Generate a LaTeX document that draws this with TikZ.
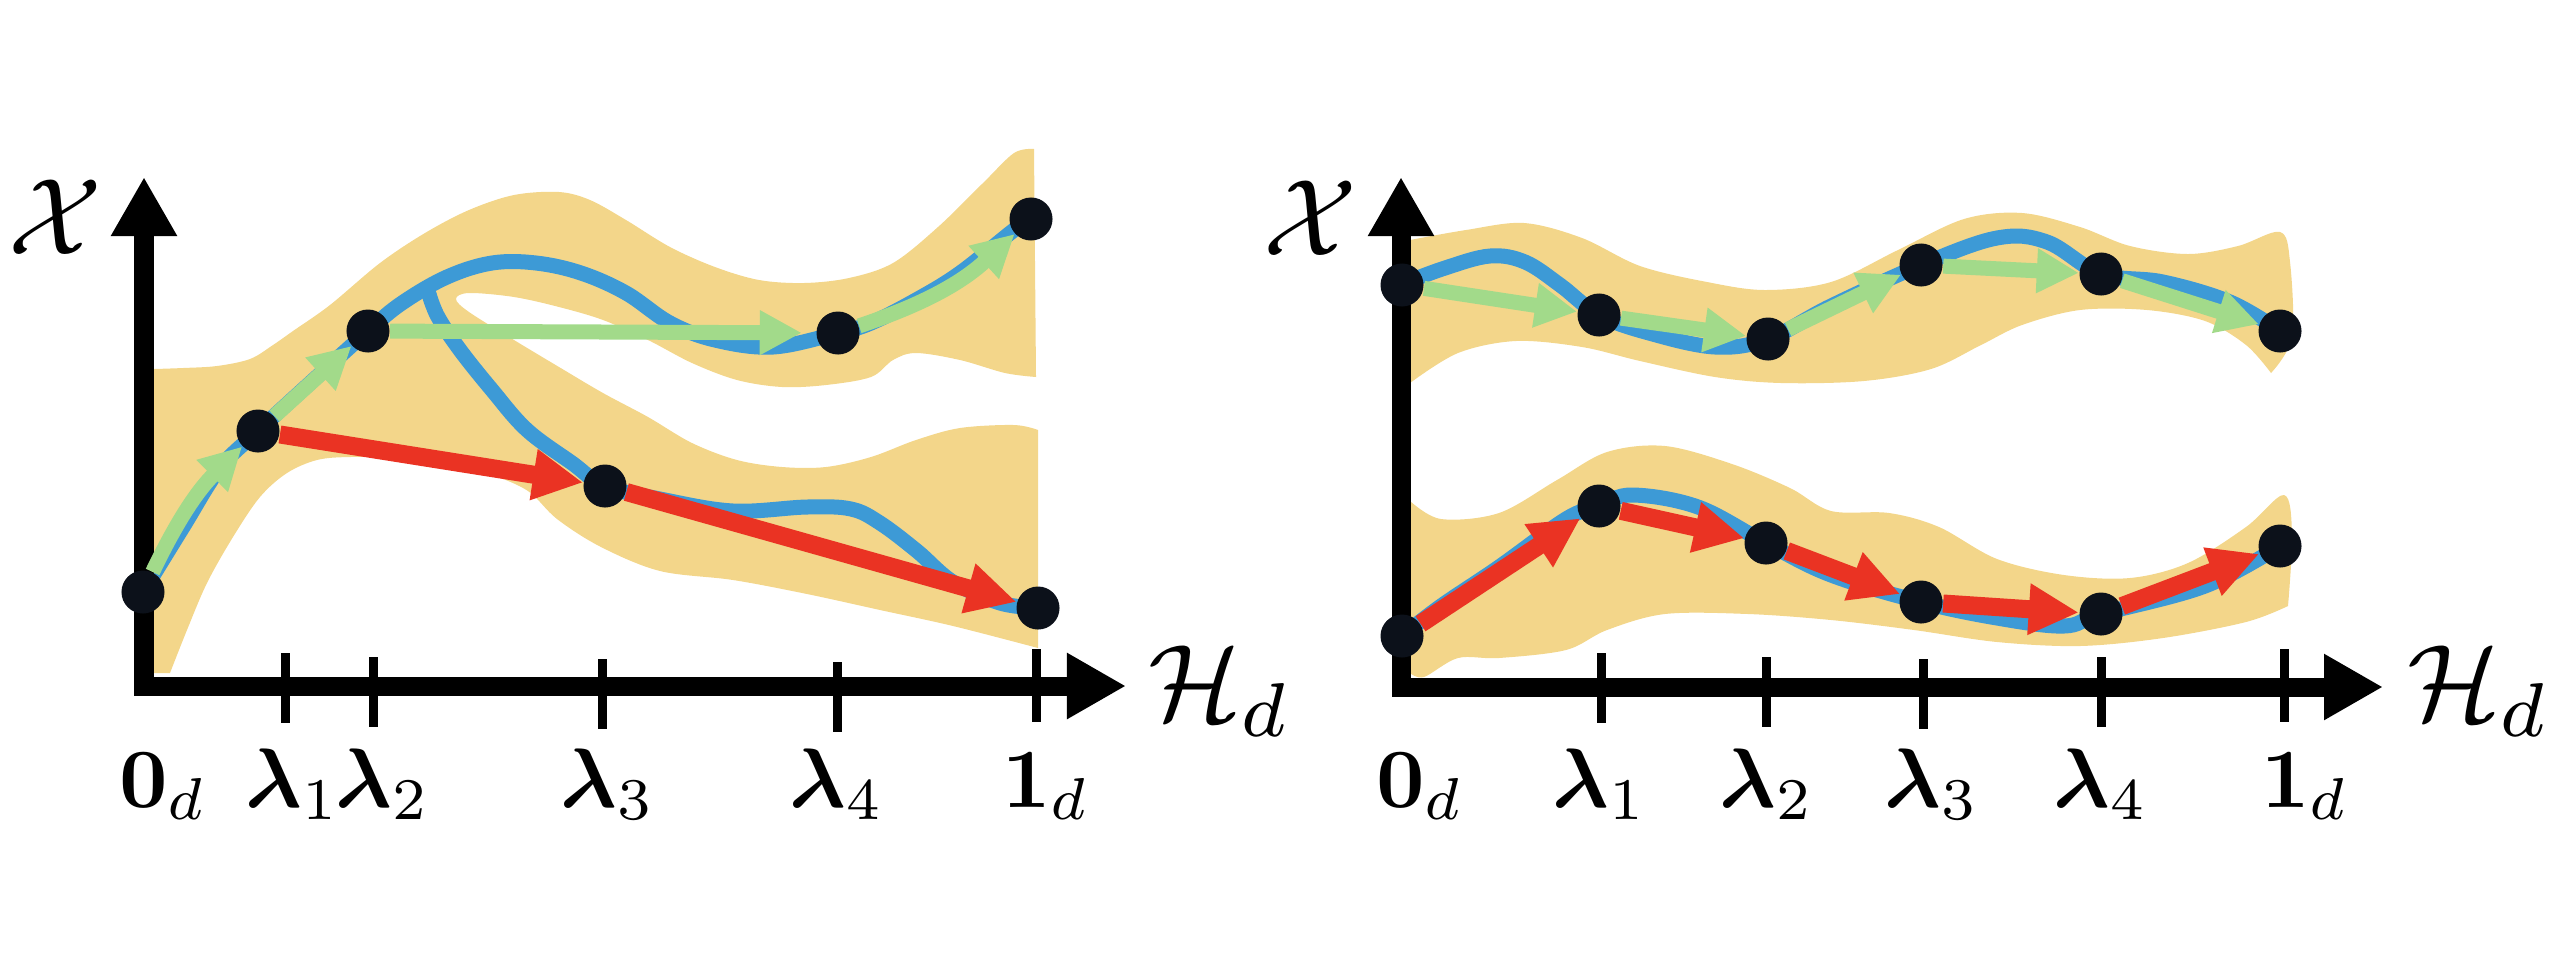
\documentclass[tikz,border=0pt]{standalone}
\usepackage{amsmath}
\usetikzlibrary{arrows.meta}
\definecolor{bandc}{HTML}{F3D68A}
\definecolor{bluec}{HTML}{3D9AD6}
\definecolor{greenc}{HTML}{A2DA8A}
\definecolor{redc}{HTML}{EA3323}
\definecolor{dotc}{HTML}{0C111A}
\pgfdeclarelayer{fg}
\pgfsetlayers{main,fg}
\begin{document}
\begin{tikzpicture}[x=0.01cm,y=-0.01cm,
  band/.style={fill=bandc},
  curve/.style={draw=bluec,line width=0.15cm,line cap=round},
  dot/.style={circle,fill=dotc,inner sep=0pt,minimum size=0.43cm},
  axisline/.style={line width=0.19cm,line join=miter,
    {Triangle[length=0.59cm,width=0.62cm]}-{Triangle[length=0.59cm,width=0.62cm]}},
  tickmark/.style={line width=0.09cm},
  greenarr/.style={draw=greenc,line width=0.15cm,-{Triangle[length=0.42cm,width=0.42cm]}},
  redarr/.style={draw=redc,line width=0.18cm,-{Triangle[length=0.50cm,width=0.48cm]}},
  ticklab/.style={anchor=base,inner sep=0pt,scale=2.4},
  axlab/.style={inner sep=0pt,scale=3.1}
]
\useasboundingbox (0,0) rectangle (2552,966);

% ---------- bands ----------
\fill[band] plot[smooth,tension=0.55] coordinates {(154,369) (183,368) (217,366) (250,359) (273,345) (293,331) (330,305) (380,263) (425,233) (469,210) (514,195) (559,192) (590,200) (626,220) (670,247) (715,267) (759,280) (804,283) (849,278) (893,263) (938,227) (983,183) (1014,153) (1034,149)}
 -- (1036,377)
 -- plot[smooth,tension=0.55] coordinates {(1036,377) (1005,373) (960,360) (916,353) (893,360) (871,377) (826,385) (782,387) (737,380) (692,363) (648,340) (603,320) (559,307) (514,297) (469,293) (456,299) (469,312) (514,340) (559,367) (603,393) (648,417) (692,443) (737,460) (782,467) (826,467) (871,457) (916,440) (960,428) (1014,425) (1038,430)}
 -- (1038,648)
 -- plot[smooth,tension=0.55] coordinates {(1038,648) (953,626) (880,610) (807,594) (733,580) (660,571) (601,547) (557,519) (528,491) (490,474) (450,462) (400,458) (350,457) (317,460) (287,473) (260,497) (233,537) (207,583) (187,630) (170,673)}
 -- (154,673) -- cycle;

\fill[band] plot[smooth,tension=0.55] coordinates {(1410,240) (1466,230) (1524,223) (1582,238) (1640,266) (1707,282) (1765,290) (1831,282) (1898,250) (1964,219) (2022,213) (2080,227) (2130,246) (2188,254) (2238,246) (2280,232) (2290,262) (2292,337) (2271,373)}
 -- plot[smooth,tension=0.55] coordinates {(2271,373) (2246,345) (2205,321) (2147,310) (2080,310) (2022,325) (1981,345) (1931,369) (1864,381) (1781,383) (1715,377) (1640,361) (1582,347) (1516,341) (1458,353) (1410,383)}
 -- cycle;

\fill[band] plot[smooth,tension=0.55] coordinates {(1410,501) (1441,519) (1499,513) (1557,480) (1607,452) (1665,446) (1732,464) (1790,488) (1831,511) (1889,513) (1939,527) (1997,559) (2064,575) (2130,578) (2188,563) (2246,527) (2284,495) (2292,535) (2288,606)}
 -- plot[smooth,tension=0.55] coordinates {(2288,606) (2246,622) (2163,638) (2080,646) (1997,642) (1914,630) (1831,620) (1748,614) (1665,614) (1607,630) (1566,650) (1499,658) (1458,658) (1424,677) (1410,673)}
 -- cycle;

% ---------- blue curves ----------
\draw[curve] plot[smooth,tension=0.6] coordinates {(143,592) (183,527) (220,468) (258,431) (308,385) (368,331) (402,303) (447,277) (492,263) (536,263) (581,273) (626,293) (670,323) (715,340) (773,347) (838,333) (871,323) (916,300) (960,273) (1014,230) (1032,218)};
\draw[curve] plot[smooth,tension=0.6] coordinates {(429,294) (438,317) (460,350) (492,390) (527,430) (572,463) (605,486) (660,499) (733,511) (807,507) (851,509) (880,523) (917,551) (953,582) (1000,603) (1038,608)};
\draw[curve] plot[smooth,tension=0.6] coordinates {(1402,284) (1445,268) (1490,256) (1525,262) (1560,285) (1599,315) (1649,333) (1715,347) (1768,339) (1831,306) (1921,265) (1997,238) (2047,242) (2101,274) (2163,282) (2230,302) (2280,331)};
\draw[curve] plot[smooth,tension=0.6] coordinates {(1402,636) (1441,606) (1499,567) (1566,519) (1599,506) (1632,495) (1698,507) (1766,543) (1831,575) (1921,602) (1997,618) (2064,626) (2101,614) (2205,586) (2280,546)};

% ---------- axes ----------
\coordinate (LO) at (144,686);
\coordinate (LYt) at (144,177);
\coordinate (LXt) at (1126,686);
\coordinate (RO) at (1401,687);
\coordinate (RYt) at (1401,177);
\coordinate (RXt) at (2383,687);
\draw[axisline] (LYt) -- (LO) -- (LXt);
\draw[axisline] (RYt) -- (RO) -- (RXt);

\draw[tickmark] (285,653) -- (285,723);
\draw[tickmark] (373,657) -- (373,727);
\draw[tickmark] (602,659) -- (602,729);
\draw[tickmark] (837,662) -- (837,732);
\draw[tickmark] (1036,649) -- (1036,722);
\draw[tickmark] (1601,653) -- (1601,723);
\draw[tickmark] (1766,657) -- (1766,727);
\draw[tickmark] (1923,659) -- (1923,729);
\draw[tickmark] (2101,657) -- (2101,727);
\draw[tickmark] (2284,649) -- (2284,722);

% ---------- labels ----------
\node[axlab] (XL) at (55,217) {$\mathcal{X}$};
\node[axlab] (XR) at (1310,218) {$\mathcal{X}$};
\node[axlab,anchor=base west] (HL) at (1146,720) {$\mathcal{H}_d$};
\node[axlab,anchor=base west] (HR) at (2405,720) {$\mathcal{H}_d$};

\node[ticklab] (l0) at (163,807) {$\mathbf{0}_d$};
\node[ticklab] (l1) at (293,807) {$\boldsymbol{\lambda}_1$};
\node[ticklab] (l2) at (383,807) {$\boldsymbol{\lambda}_2$};
\node[ticklab] (l3) at (608,807) {$\boldsymbol{\lambda}_3$};
\node[ticklab] (l4) at (837,807) {$\boldsymbol{\lambda}_4$};
\node[ticklab] (l5) at (1046,807) {$\mathbf{1}_d$};
\node[ticklab] (r0) at (1420,807) {$\mathbf{0}_d$};
\node[ticklab] (r1) at (1600,807) {$\boldsymbol{\lambda}_1$};
\node[ticklab] (r2) at (1767,807) {$\boldsymbol{\lambda}_2$};
\node[ticklab] (r3) at (1932,807) {$\boldsymbol{\lambda}_3$};
\node[ticklab] (r4) at (2101,807) {$\boldsymbol{\lambda}_4$};
\node[ticklab] (r5) at (2305,807) {$\mathbf{1}_d$};

% ---------- dots ----------
\begin{pgfonlayer}{fg}
\node[dot] (L0) at (143,592) {};
\node[dot] (L1) at (258,431) {};
\node[dot] (L2) at (368,331) {};
\node[dot] (L3) at (605,486) {};
\node[dot] (L4) at (838,333) {};
\node[dot] (L5) at (1031,219) {};
\node[dot] (L6) at (1038,608) {};
\node[dot] (A0) at (1402,285) {};
\node[dot] (A1) at (1599,315) {};
\node[dot] (A2) at (1768,339) {};
\node[dot] (A3) at (1921,265) {};
\node[dot] (A4) at (2101,274) {};
\node[dot] (A5) at (2280,331) {};
\node[dot] (B0) at (1402,636) {};
\node[dot] (B1) at (1599,506) {};
\node[dot] (B2) at (1766,543) {};
\node[dot] (B3) at (1921,602) {};
\node[dot] (B4) at (2101,614) {};
\node[dot] (B5) at (2280,546) {};
\end{pgfonlayer}

% ---------- arrows ----------
\draw[greenarr] (L0) to[bend left=10] (L1);
\draw[greenarr] (L1) -- (L2);
\draw[greenarr,shorten >=0.14cm] (L2) -- (L4);
\draw[greenarr] (L4) to[bend right=12] (L5);
\draw[redarr] (L1) -- (L3);
\draw[redarr] (L3) -- (L6);

\draw[greenarr] (A0) -- (A1);
\draw[greenarr] (A1) -- (A2);
\draw[greenarr] (A2) -- (A3);
\draw[greenarr] (A3) -- (A4);
\draw[greenarr] (A4) -- (A5);

\draw[redarr] (B0) -- (B1);
\draw[redarr] (B1) -- (B2);
\draw[redarr] (B2) -- (B3);
\draw[redarr] (B3) -- (B4);
\draw[redarr] (B4) -- (B5);
\end{tikzpicture}
\end{document}
